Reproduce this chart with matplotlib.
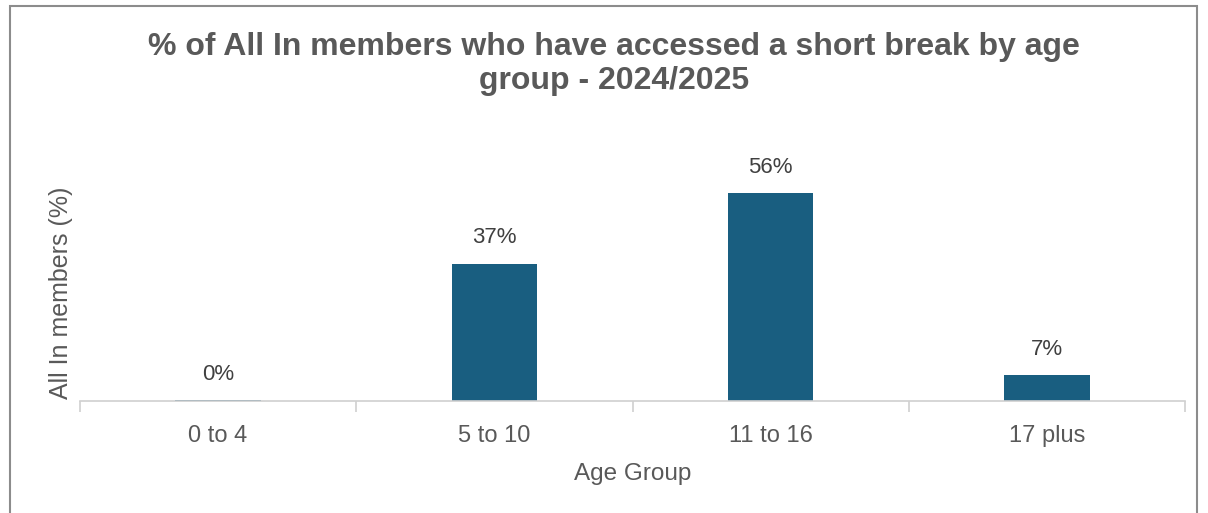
import matplotlib.pyplot as plt
from matplotlib.patches import Rectangle

age_groups = ['0 to 4', '5 to 10', '11 to 16', '17 plus']
pct_accessed = [0.3, 37, 56, 7]
bar_labels = ['0%', '37%', '56%', '7%']

W, H = 1208, 513
fig = plt.figure(figsize=(W / 100, H / 100), dpi=100)
plt.rcParams['font.family'] = ['Liberation Sans', 'DejaVu Sans']
grey = '#595959'

# chart area border
fig.patches.append(Rectangle((10 / W, -0.05), 1187 / W, 1.05 - 6 / H,
                             transform=fig.transFigure, fill=False,
                             edgecolor='#8c8c8c', linewidth=1.5))

ax = fig.add_axes([80 / W, 1 - 401 / H, 1105 / W, 261 / H])
x = range(len(age_groups))
bars = ax.bar(x, pct_accessed, width=0.31, color='#195e80')
ax.set_xlim(-0.5, 3.5)
ax.set_ylim(0, 261 / 371 * 100)

for b, lab in zip(bars, bar_labels):
    ax.annotate(lab, (b.get_x() + b.get_width() / 2, b.get_height()),
                xytext=(0, 11), textcoords='offset points', ha='center',
                va='bottom', fontsize=16, color='#404040')

for s in ['top', 'right', 'left']:
    ax.spines[s].set_visible(False)
ax.spines['bottom'].set_color('#d0d0d0')
ax.spines['bottom'].set_linewidth(1.2)
ax.set_yticks([])

ax.set_xticks(list(x))
ax.set_xticklabels(age_groups, fontsize=17, color=grey)
ax.tick_params(axis='x', length=0, pad=17)
ax.set_xticks([i - 0.5 for i in range(len(age_groups) + 1)], minor=True)
ax.tick_params(axis='x', which='minor', length=8, color='#d0d0d0', width=1.2)

ax.set_xlabel('Age Group', fontsize=17.5, color=grey, labelpad=12)
ax.set_ylabel('All In members (%)', fontsize=18, color=grey)
ax.yaxis.set_label_coords(-0.006, 0.414)

fig.text(614 / W, 1 - 64 / H,
         '% of All In members who have accessed a short break by age\ngroup - 2024/2025',
         ha='center', va='center', fontsize=23, fontweight='bold', color=grey,
         linespacing=1.2)

fig.savefig('out.png', dpi=100)
